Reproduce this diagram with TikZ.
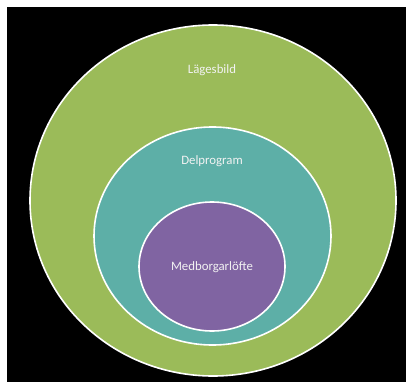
\documentclass[tikz,border=0pt]{standalone}
\usepackage{fontspec}
\setmainfont{Carlito}
\definecolor{gr}{HTML}{9BBB59}
\definecolor{tl}{HTML}{5DAFA7}
\definecolor{pu}{HTML}{8064A2}
\definecolor{tx}{HTML}{F2F2F2}
\begin{document}
\begin{tikzpicture}[x=1pt,y=-1pt,
  ring/.style={draw=white,line width=1.6pt},
  lbl/.style={text=tx,font=\fontsize{12.8}{15}\selectfont,inner sep=0pt}]
\useasboundingbox (0,0) rectangle (406,382);
\fill[white] (0,0) rectangle (406,382);
\fill[black] (7,7) rectangle (406,382);
\begin{scope}
\clip (7,7) rectangle (406,382);
\draw[ring,fill=gr] (213,200.5) ellipse [x radius=183,y radius=175.5];
\end{scope}
\draw[ring,fill=tl] (212.5,236) ellipse [x radius=118.5,y radius=109];
\draw[ring,fill=pu] (212,266.5) ellipse [x radius=73,y radius=64.5];
\node[lbl] (l) at (212,70) {Lägesbild};
\node[lbl] (d) at (212,161) {Delprogram};
\node[lbl] (m) at (212,267) {Medborgarlöfte};
\end{tikzpicture}
\end{document}
